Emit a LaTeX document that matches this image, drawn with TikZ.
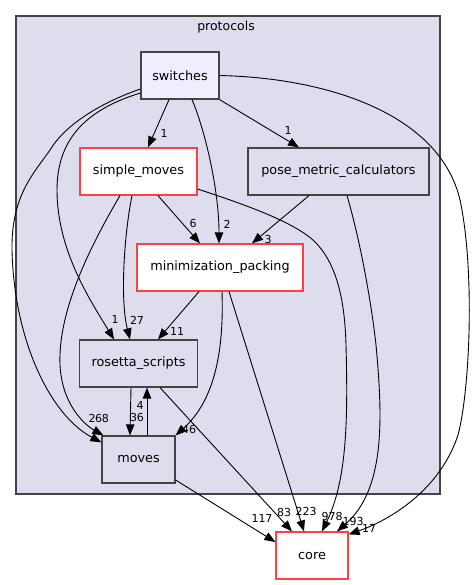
\documentclass[tikz,border=0pt]{standalone}
\usepackage{fontspec}
\setmainfont{DejaVu Sans}
\usetikzlibrary{arrows.meta}
\definecolor{clfill}{HTML}{DDDDEE}
\definecolor{clborder}{HTML}{444444}
\definecolor{swfill}{HTML}{EEEEFF}
\definecolor{redb}{HTML}{FF4040}
\begin{document}
\begin{tikzpicture}[x=1pt,y=-1pt,
  box/.style={draw=clborder,line width=1.2pt,fill=clfill,minimum height=47pt,inner sep=0pt,font=\fontsize{12.8}{15}\selectfont},
  redbox/.style={box,draw=redb,fill=white},
  lbl/.style={font=\fontsize{11}{13}\selectfont,inner sep=0pt},
  edge/.style={draw=black,line width=0.9pt,-{Triangle[length=11pt,width=8.5pt]}}]
\useasboundingbox (0,0) rectangle (475,585);
\fill[white] (0,0) rectangle (475,585);
\draw[clborder,line width=1.2pt,fill=clfill] (16,16) rectangle (440,494);
\node[font=\fontsize{12.5}{15}\selectfont] (clab) at (226,27) {protocols};

\node[box,fill=swfill,minimum width=78pt] (sw) at (180,75.5) {switches};
\node[redbox,minimum width=117pt] (sm) at (138.5,171.5) {simple\_moves};
\node[box,minimum width=181pt] (pm) at (338.5,171.5) {pose\_metric\_calculators};
\node[redbox,minimum width=166pt] (mp) at (220,267.5) {minimization\_packing};
\node[box,minimum width=118pt] (rs) at (138.5,363.5) {rosetta\_scripts};
\node[box,minimum width=73pt] (mv) at (138.5,459.5) {moves};
\node[redbox,minimum width=72pt] (co) at (312,555.5) {core};

% edges
\draw[edge] ([xshift=-11pt]sw.south) -- ([xshift=9.5pt]sm.north);
\node[lbl] (l1) at (164,133) {1};
\draw[edge] (sw.south east) -- ([xshift=-39.5pt]pm.north);
\node[lbl] (l2) at (288,130) {1};
\draw[edge] ([xshift=12pt]sw.south) .. controls (205,130) and (219,190) .. ([xshift=-1pt]mp.north);
\node[lbl] (l3) at (227,224) {2};
\draw[edge] ([xshift=19.5pt]sm.south) -- ([xshift=-20pt]mp.north);
\node[lbl] (l4) at (193,223) {6};
\draw[edge] ([xshift=-29.5pt]pm.south) -- ([xshift=32pt]mp.north);
\node[lbl] (l5) at (268,239) {3};
\draw[edge] ([xshift=-21pt]mp.south) -- ([xshift=19.5pt]rs.north);
\node[lbl] (l6) at (177,331) {11};
\draw[edge] ([xshift=-6.5pt]sm.south) .. controls (124,235) and (120,300) .. ([xshift=-8.5pt]rs.north);
\node[lbl] (l7) at (137,320) {27};
\draw[edge] ([yshift=-17.5pt]sw.west) .. controls (85,110) and (57,140) .. (57,190) .. controls (57,250) and (90,300) .. ([xshift=-24.5pt]rs.north);
\node[lbl] (l8) at (115,319) {1};
\draw[edge] ([yshift=-13.5pt]sw.west) .. controls (100,103) and (65,125) .. (50,150) .. controls (35,172) and (11,195) .. (12,250) .. controls (14,340) and (50,415) .. ([yshift=-7pt]mv.north west);
\node[lbl] (l9) at (92,418) {2};
\draw[edge] ([xshift=-18.5pt]sm.south) .. controls (85,255) and (58,315) .. (60,365) .. controls (62,405) and (85,425) .. ([xshift=2pt]mv.north west);
\node[lbl] (l10) at (102,418) {68};
\draw[edge] ([xshift=2pt]mp.south) .. controls (224,350) and (215,400) .. (mv.north east);
\node[lbl] (l11) at (189,429) {46};
\draw[edge] ([xshift=-7.5pt]rs.south) -- ([xshift=-8.5pt]mv.north);
\node[lbl] (l12) at (137,417) {36};
\draw[edge] ([xshift=8.5pt]mv.north) -- ([xshift=8.5pt]rs.south);
\node[lbl] (l13) at (140,405) {4};
\draw[edge] ([xshift=21.5pt]rs.south) -- ([xshift=-20pt]co.north);
\node[lbl] (l14) at (284,512) {83};
\draw[edge] ([yshift=-20.5pt]mv.east) -- ([yshift=13.5pt]co.west);
\node[lbl] (l15) at (262,518) {117};
\draw[edge] ([xshift=9pt]mp.south) -- ([xshift=-8pt]co.north);
\node[lbl] (l16) at (306,511) {223};
\draw[edge] ([yshift=-17.5pt]sm.east) .. controls (240,203) and (290,220) .. (313,240) .. controls (340,265) and (345,310) .. (346,345) .. controls (348,420) and (347,480) .. ([xshift=10pt]co.north);
\node[lbl] (l17) at (332,516) {978};
\draw[edge] ([xshift=8.5pt]pm.south) .. controls (360,240) and (371,300) .. (376,345) .. controls (383,420) and (385,490) .. ([xshift=25pt]co.north);
\node[lbl] (l18) at (353,521) {193};
\draw[edge] (sw.east) .. controls (330,78) and (440,115) .. (460,200) .. controls (475,270) and (470,390) .. (458,435) .. controls (440,490) and (390,520) .. ([yshift=-3pt]co.north east);
\node[lbl] (l19) at (369,528) {17};
\end{tikzpicture}
\end{document}
